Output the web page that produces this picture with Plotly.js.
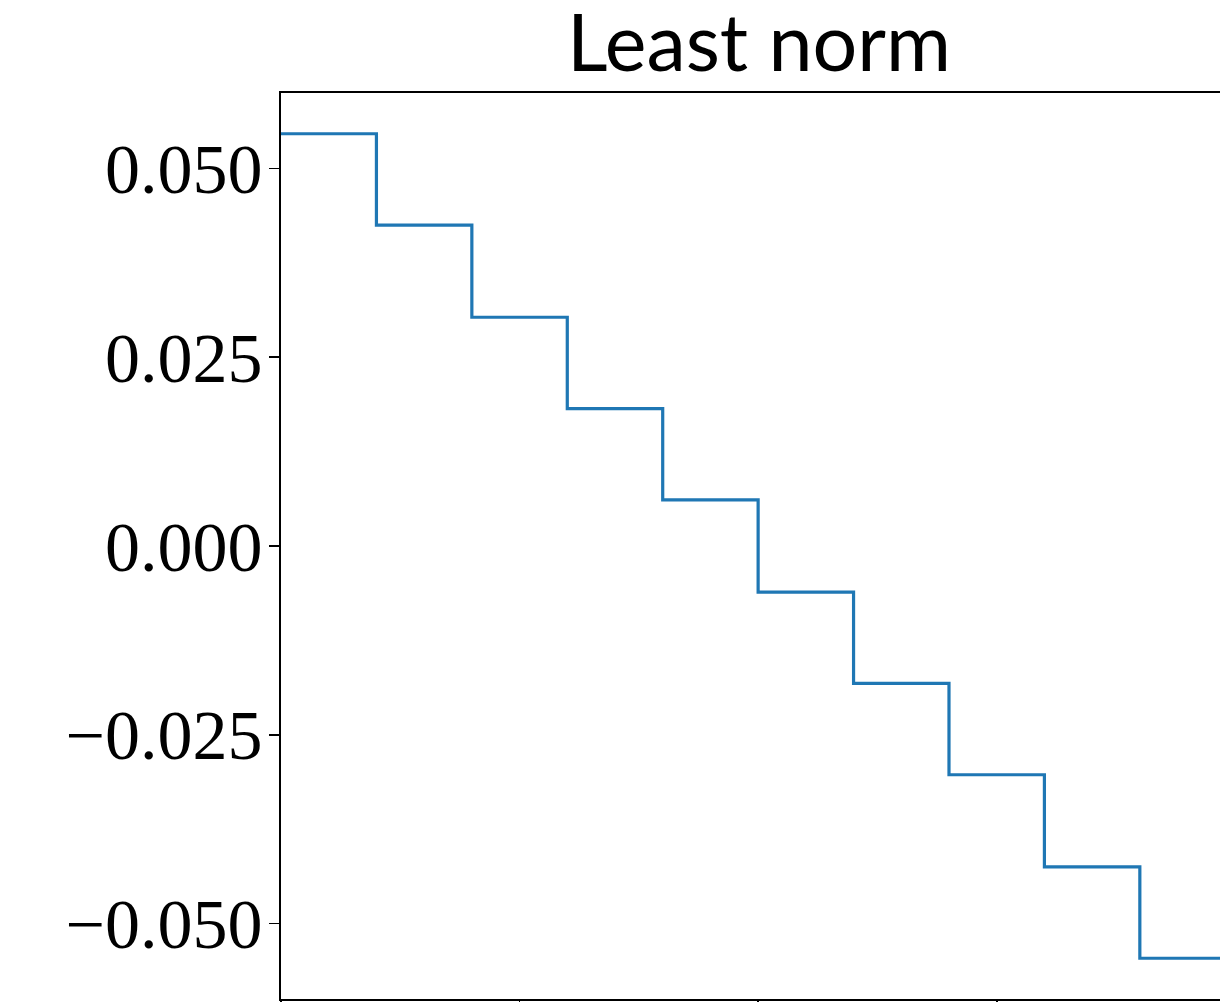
<!DOCTYPE html>
<html>
<head>
<meta charset="utf-8">
<script src="https://cdn.plot.ly/plotly-3.0.1.min.js"></script>
<style>html,body{margin:0;padding:0;background:#fff;}#chart{width:1220px;height:1002px;}</style>
</head>
<body>
<div id="chart"></div>
<script>
// Step positions (left edges) and values
const stepX = [0.0, 0.1, 0.2, 0.3, 0.4, 0.5, 0.6, 0.7, 0.8, 0.9, 1.0];
const stepY = [0.0546, 0.0425, 0.0303, 0.0182, 0.0061, -0.0061, -0.0182, -0.0303, -0.0425, -0.0546, -0.0546];
const yTickVals = [-0.05, -0.025, 0.0, 0.025, 0.05];
const yTickText = ["\u22120.050", "\u22120.025", "0.000", "0.025", "0.050"];
const xTickVals = [0, 0.25, 0.5, 0.75, 1.0];
const titleText = "Least norm";

const trace = {
  x: stepX, y: stepY, type: 'scatter', mode: 'lines',
  line: {shape: 'hv', color: '#1f77b4', width: 3.2},
  hoverinfo: 'skip'
};

const layout = {
  width: 1220, height: 1002,
  margin: {l: 281, r: 0, t: 93, b: 3, pad: 0},
  paper_bgcolor: '#fff', plot_bgcolor: '#fff',
  showlegend: false,
  title: {
    text: titleText,
    font: {family: 'Lato', size: 79, color: '#000'},
    x: 759/1220, xref: 'container', xanchor: 'center',
    y: 1 - 43/1002, yref: 'container', yanchor: 'middle'
  },
  xaxis: {
    range: [0, 0.984], showgrid: false, zeroline: false,
    showline: true, linecolor: '#000', linewidth: 1.6, mirror: true,
    ticks: 'outside', ticklen: 10, tickwidth: 1.6, tickcolor: '#000',
    tickmode: 'array', tickvals: xTickVals, showticklabels: false
  },
  yaxis: {
    range: [-0.06, 0.06], showgrid: false, zeroline: false,
    showline: true, linecolor: '#000', linewidth: 1.6, mirror: false,
    ticks: 'outside', ticklen: 10, tickwidth: 1.6, tickcolor: '#000',
    tickmode: 'array', tickvals: yTickVals, ticktext: yTickText,
    ticklabelstandoff: -7,
    tickfont: {family: 'Liberation Serif', size: 70, color: '#000'}
  }
};

Plotly.newPlot('chart', [trace], layout, {staticPlot: true, displayModeBar: false});
</script>
</body>
</html>
